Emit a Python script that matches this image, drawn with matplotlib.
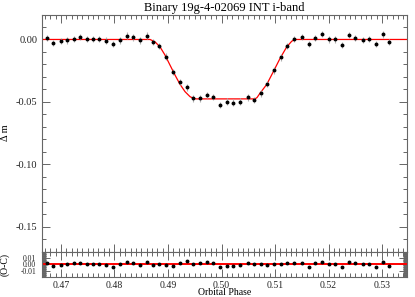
import numpy as np
import matplotlib
matplotlib.use("Agg")
import matplotlib.pyplot as plt
from matplotlib.ticker import MultipleLocator, FixedLocator, FormatStrFormatter

plt.rcParams['font.family'] = ['Liberation Serif', 'DejaVu Serif']
plt.rcParams['axes.unicode_minus'] = False

# fase orbital das observações
phase = [0.46733, 0.46845, 0.46994, 0.47118, 0.47243, 0.47355, 0.47480, 0.47604,
         0.47716, 0.47841, 0.47966, 0.48103, 0.48228, 0.48351, 0.48477, 0.48602,
         0.48725, 0.48837, 0.48957, 0.49088, 0.49224, 0.49361, 0.49473, 0.49598,
         0.49723, 0.49847, 0.49972, 0.50097, 0.50221, 0.50346, 0.50495, 0.50607,
         0.50733, 0.50856, 0.50981, 0.51106, 0.51230, 0.51355, 0.51505, 0.51630,
         0.51753, 0.51879, 0.52004, 0.52127, 0.52252, 0.52377, 0.52501, 0.52639,
         0.52763, 0.52888, 0.53013, 0.53136]

dmag = [0.0013, -0.0027, -0.0013, -0.0008, 0.0003, 0.0020, 0.0003, 0.0003,
        0.0003, -0.0010, -0.0035, -0.0008, 0.0030, 0.0016, -0.0008, 0.0030,
        -0.0020, -0.0053, -0.0138, -0.0260, -0.0342, -0.0383, -0.0472, -0.0472,
        -0.0446, -0.0460, -0.0524, -0.0497, -0.0505, -0.0497, -0.0463, -0.0484,
        -0.0431, -0.0358, -0.0248, -0.0144, -0.0053, 0.0003, 0.0020, -0.0035,
        0.0010, 0.0043, 0.0000, 0.0000, -0.0045, 0.0035, 0.0010, -0.0003,
        0.0005, -0.0037, 0.0040, -0.0019]

dmag_err = [0.0026] * len(phase)

resid = [0.0011, -0.0033, -0.0017, -0.0006, 0.0011, 0.0022, 0.0006, 0.0006,
         0.0006, -0.0017, -0.0044, -0.0006, 0.0028, 0.0022, -0.0011, 0.0028,
         -0.0017, 0.0000, -0.0011, -0.0033, 0.0022, 0.0050, 0.0006, 0.0011,
         0.0028, 0.0022, -0.0044, -0.0022, -0.0028, -0.0017, 0.0017, -0.0006,
         -0.0006, -0.0011, 0.0000, 0.0006, 0.0011, 0.0011, 0.0017, -0.0039,
         0.0011, 0.0039, 0.0000, 0.0000, -0.0050, 0.0033, 0.0011, -0.0006,
         0.0006, -0.0044, 0.0039, -0.0028]

# modelo (curva vermelha)
model_phase = [0.4664, 0.48664, 0.48757, 0.48850, 0.48944, 0.49037, 0.49131,
               0.49224, 0.49318, 0.49411, 0.49473, 0.49523, 0.50626, 0.50664,
               0.50720, 0.50845, 0.50968, 0.51093, 0.51219, 0.51312, 0.51374,
               0.5346]
model_dm = [0.0, 0.0, -0.0019, -0.0059, -0.0125, -0.0205, -0.0285,
            -0.0359, -0.0418, -0.0458, -0.0471, -0.0476, -0.0476, -0.0465,
            -0.0430, -0.0360, -0.0258, -0.0152, -0.0059, -0.0014, 0.0,
            0.0]

resid_ticks = [-0.01, 0.0, 0.01]

W, H = 415, 297
fig = plt.figure(figsize=(W / 100, H / 100), dpi=100)
left, right = 41.7, 406.7
ax = fig.add_axes([left / W, 1 - 251.7 / H, (right - left) / W, (251.7 - 14.5) / H])
axr = fig.add_axes([left / W, 1 - 276.5 / H, (right - left) / W, (276.5 - 251.7) / H])

spine_c = '#666666'
for a in (ax, axr):
    for s in a.spines.values():
        s.set_color(spine_c)
        s.set_linewidth(0.8)
    a.tick_params(which='both', direction='in', top=True, right=True,
                  color=spine_c, labelcolor='#222222', width=0.7)
    a.tick_params(which='major', length=6)
    a.tick_params(which='minor', length=3)
    a.set_xlim(0.4664, 0.5346)
    a.xaxis.set_major_locator(MultipleLocator(0.01))
    a.xaxis.set_minor_locator(MultipleLocator(0.001))

# painel principal
ax.plot(model_phase, model_dm, color='red', lw=0.9, zorder=2)
ax.errorbar(phase, dmag, yerr=dmag_err, fmt='o', ms=1.8, color='black',
            ecolor='#b0b0b0', elinewidth=0.8, capsize=0, zorder=3)
ax.set_ylim(-0.17, 0.02)
ax.yaxis.set_major_locator(MultipleLocator(0.05))
ax.yaxis.set_minor_locator(MultipleLocator(0.01))
ax.yaxis.set_major_formatter(FormatStrFormatter('%.2f'))
ax.tick_params(axis='y', labelsize=7.5, pad=3)
ax.tick_params(axis='x', labelbottom=False)
ax.set_ylabel('Δ m', fontsize=7.5)
ax.set_title('Binary 19g-4-02069 INT i-band', fontsize=9, pad=2)

# residuos
axr.axhline(0, color='red', lw=1.4, zorder=2)
axr.errorbar(phase, resid, yerr=[0.001] * len(phase), fmt='o', ms=1.8,
             color='black', ecolor='#b0b0b0', elinewidth=0.6, capsize=0, zorder=3)
axr.set_ylim(-0.019, 0.019)
axr.yaxis.set_major_locator(FixedLocator(resid_ticks))
axr.yaxis.set_minor_locator(MultipleLocator(0.001))
axr.yaxis.set_major_formatter(FormatStrFormatter('%.2f'))
axr.tick_params(axis='y', labelsize=5.5, pad=4)
axr.tick_params(axis='x', labelsize=7, pad=3)
axr.set_ylabel('(O-C)', fontsize=7)
axr.set_xlabel('Orbital Phase', fontsize=7, labelpad=-1)
axr.yaxis.set_label_coords(-0.088, 0.5)
ax.yaxis.set_label_coords(-0.088, 0.5)

fig.savefig('out.png', dpi=100)
